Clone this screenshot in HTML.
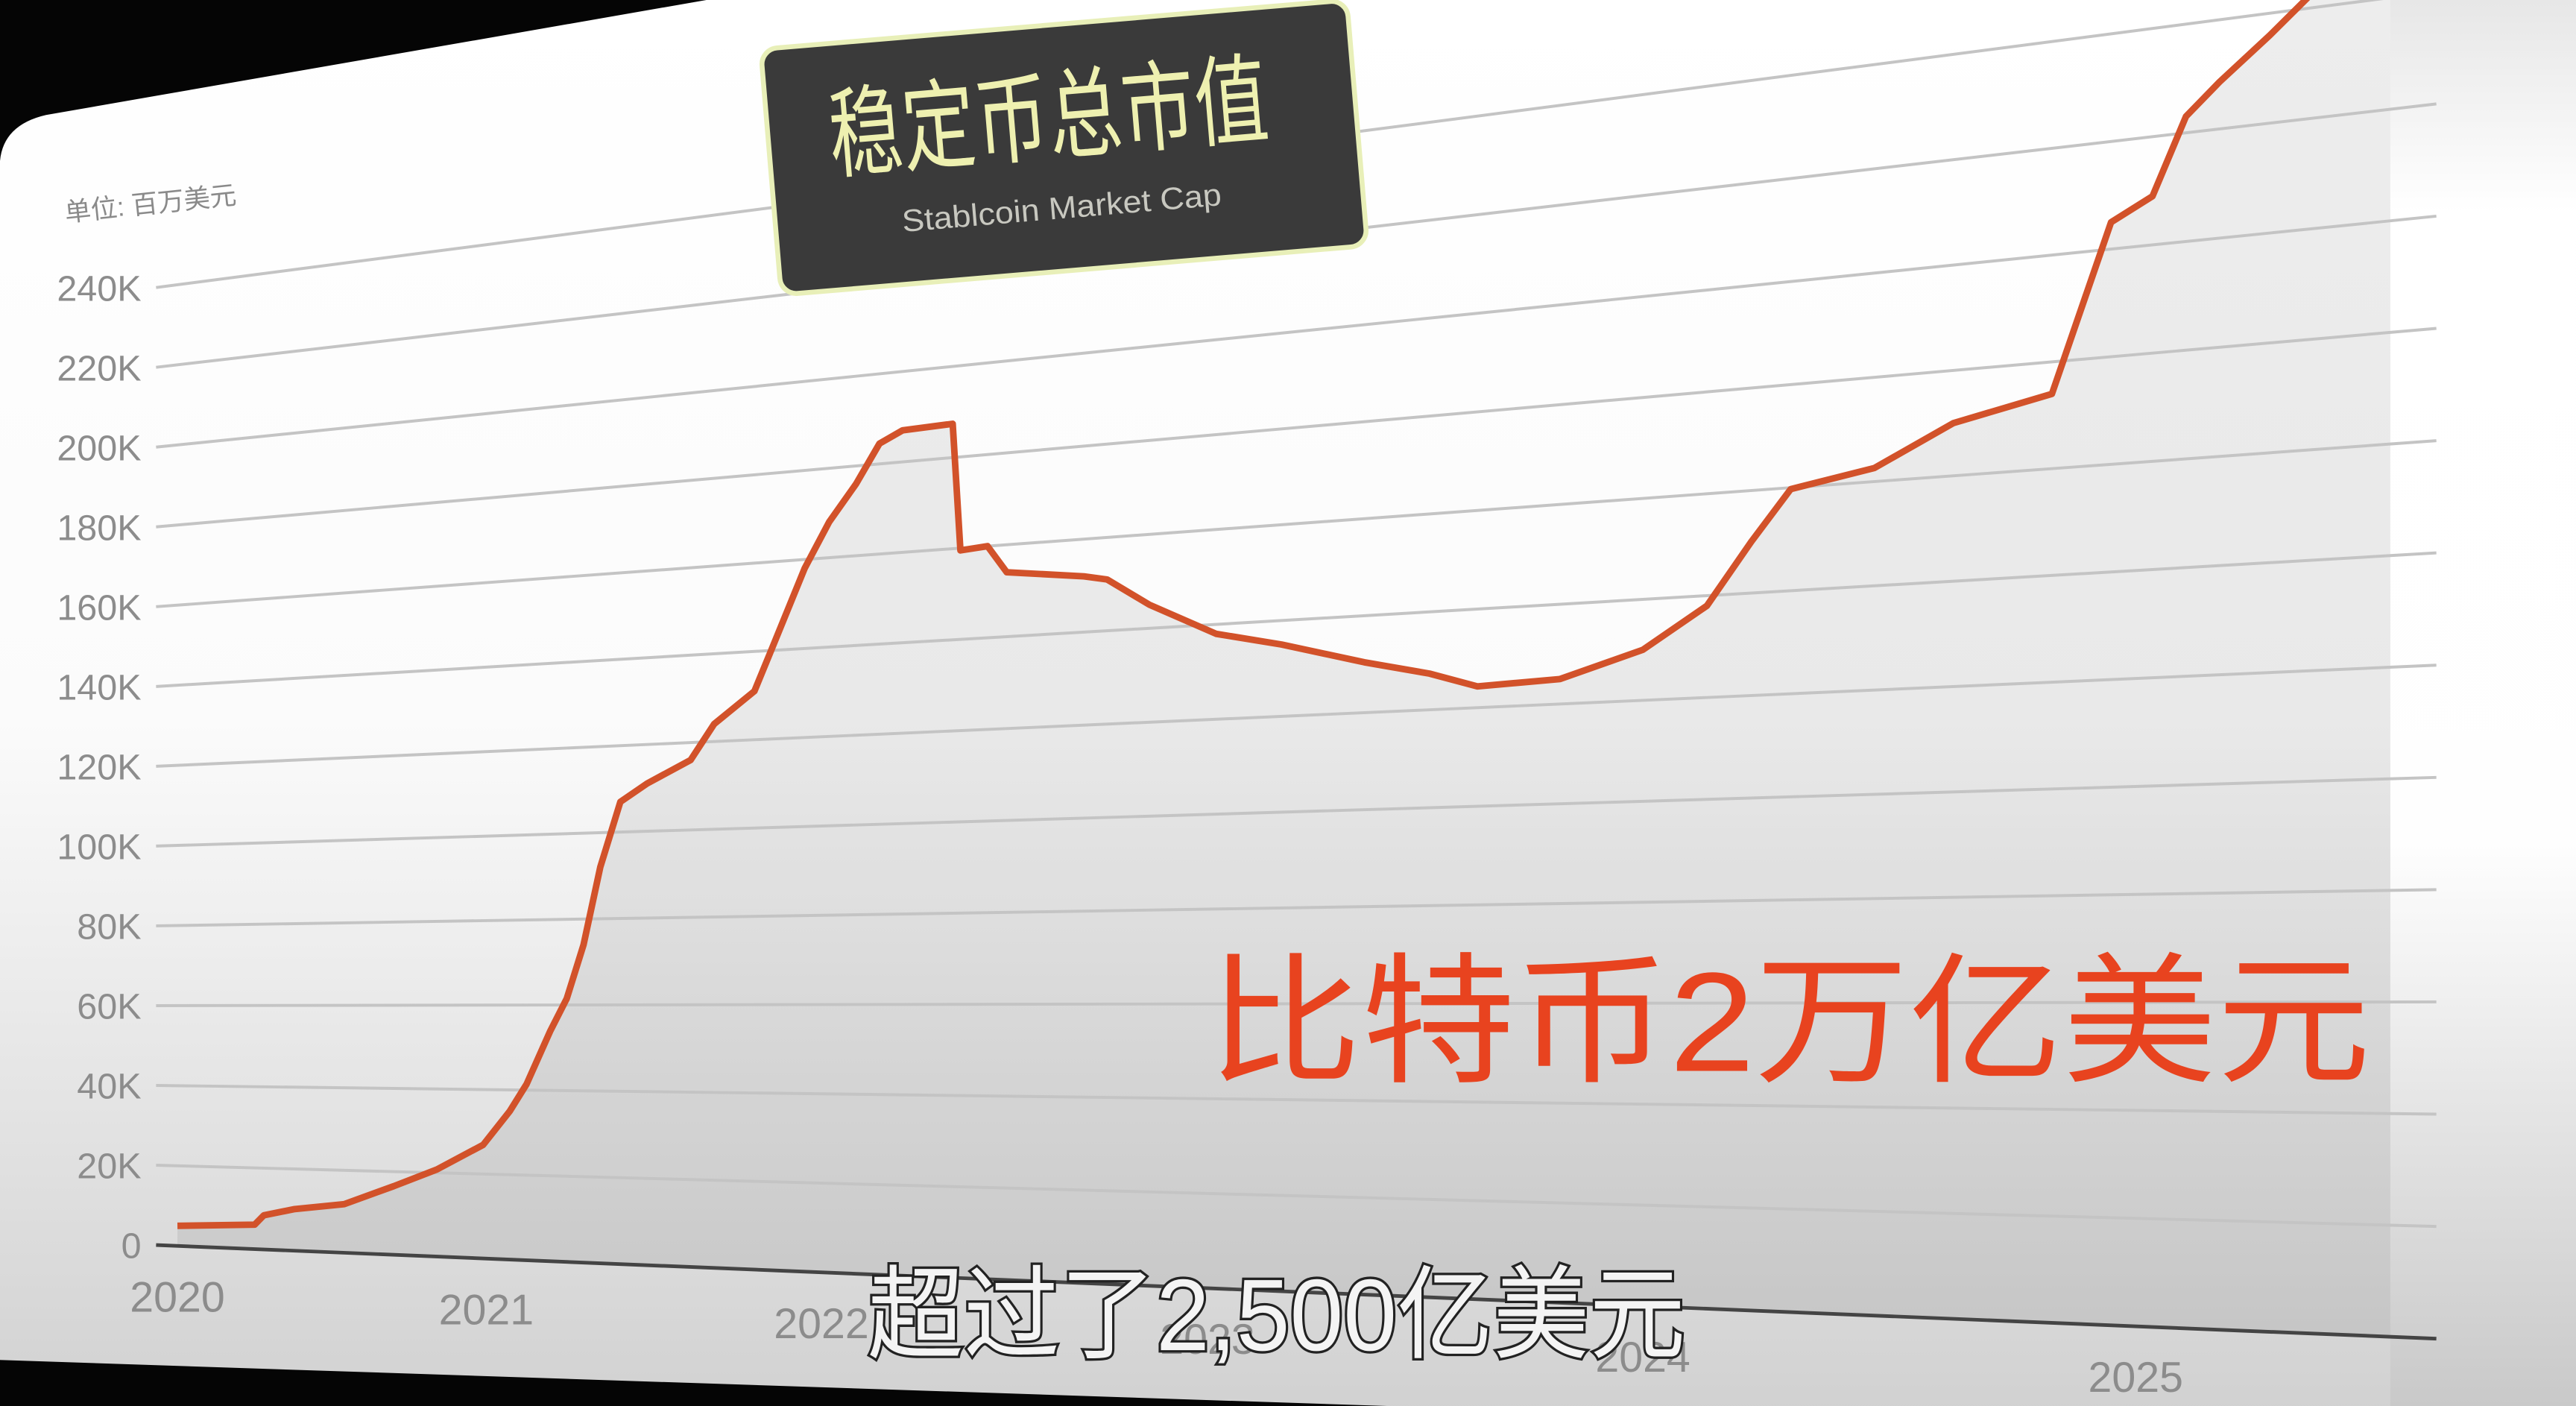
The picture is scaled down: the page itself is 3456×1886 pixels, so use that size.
<!DOCTYPE html>
<html><head><meta charset="utf-8"><style>
html,body{margin:0;padding:0;background:#000;overflow:hidden}
svg{display:block}
text{font-family:"Liberation Sans","Noto Sans CJK SC",sans-serif}
</style></head><body>
<svg id="chart" width="3456" height="1886" viewBox="0 0 1568 856" preserveAspectRatio="none" xmlns="http://www.w3.org/2000/svg">
<defs>
<linearGradient id="pg" x1="0" y1="0" x2="0" y2="1">
<stop offset="0" stop-color="#ffffff"/><stop offset="0.5" stop-color="#fbfbfb"/><stop offset="1" stop-color="#cfcfcf"/>
</linearGradient>
<linearGradient id="rg" x1="0" y1="0" x2="0" y2="1">
<stop offset="0" stop-color="#e4e4e4"/><stop offset="0.15" stop-color="#ffffff"/><stop offset="0.6" stop-color="#ffffff"/><stop offset="1" stop-color="#c8c8c8"/>
</linearGradient>
</defs>
<rect x="0" y="0" width="1568" height="856" fill="#050505"/>
<path d="M0,98 Q2,76 28,70 L430,0 L1568,0 L1568,880 L0,828 Z" fill="url(#pg)"/>
<rect x="1455" y="0" width="113" height="856" fill="url(#rg)" opacity="0.9"/>
<g id="plot"></g>
<text x="40" y="135" font-size="16" fill="#8a8a8a" transform="rotate(-6 40 135)">单位: 百万美元</text>
<g transform="rotate(-4.8 463 30)">
<rect x="463" y="30" width="358" height="150" rx="10" fill="#3a3a3a" stroke="#e8efb8" stroke-width="3"/>
<text x="500" y="107" font-size="60" fill="#eef0b0" textLength="268" lengthAdjust="spacingAndGlyphs">稳定币总市值</text>
<text x="540" y="148" font-size="19" fill="#c8c8c0" textLength="195" lengthAdjust="spacingAndGlyphs">Stablcoin Market Cap</text>
</g>
<text x="735" y="652" font-size="86" fill="#e8431f" textLength="708" lengthAdjust="spacingAndGlyphs">比特币2万亿美元</text>
<text x="528" y="822" font-size="62" fill="#f4f4f4" stroke="#222" stroke-width="3" paint-order="stroke" textLength="498" lengthAdjust="spacingAndGlyphs">超过了2,500亿美元</text>
</svg>
<script>
const years = [2020.0,2020.25,2020.28,2020.38,2020.54,2020.70,2020.84,2020.99,2021.07,2021.12,2021.19,2021.24,2021.29,2021.34,2021.40,2021.48,2021.61,2021.68,2021.80,2021.85,2021.95,2022.02,2022.09,2022.15,2022.21,2022.34,2022.36,2022.43,2022.48,2022.68,2022.74,2022.85,2023.02,2023.17,2023.36,2023.51,2023.62,2023.81,2024.0,2024.13,2024.22,2024.30,2024.47,2024.63,2024.83,2024.88,2024.95,2025.03,2025.09,2025.15,2025.24,2025.32];
const marketCapK = [5,6,8.4,10.2,11.8,16.5,20.8,26.9,35,41.4,53.8,61.5,74,92,107,111,116,124,131,140,158,168,176,184.5,187,187.4,159.5,160,154,152,151,145,138,135,130.4,127.4,124.3,125,130,138,150,159.7,162.6,170,174,187,205,209,223,228.6,236,243];
const yTicks = [0,20,40,60,80,100,120,140,160,180,200,220,240];
const yTickLabels = ["0","20K","40K","60K","80K","100K","120K","140K","160K","180K","200K","220K","240K"];
const xTickYears = [2020,2021,2022,2023,2024,2025];
const xTickLabels = ["2020","2021","2022","2023","2024","2025"];

const NS="http://www.w3.org/2000/svg";
const plot=document.getElementById('plot');
const yearPos=[[2020,108],[2021,296],[2022,500],[2023,735],[2024,1000],[2025,1300],[2026,1640]];
function xOf(yr){for(let i=0;i<yearPos.length-1;i++){const a=yearPos[i],b=yearPos[i+1];if(yr<=b[0]||i===yearPos.length-2){return a[1]+(yr-a[0])/(b[0]-a[0])*(b[1]-a[1]);}}}
const X0=95,X1=1483;
function yAt(x,v){const t=(x-X0)/(X1-X0);return 758+57*t-v*(2.429+0.988*t);}
function mk(tag,attrs){const e=document.createElementNS(NS,tag);for(const k in attrs)e.setAttribute(k,attrs[k]);return e;}

yTicks.forEach((v,i)=>{
  const l=mk('line',{x1:X0,y1:yAt(X0,v),x2:X1,y2:yAt(X1,v),stroke:v===0?'#444':'#c4c4c4','stroke-width':v===0?2.2:1.8});
  
  
  plot.appendChild(l);
  const tx=mk('text',{x:86,y:yAt(X0,v)+8,'font-size':22,fill:'#8c8c8c','text-anchor':'end'});
  tx.textContent=yTickLabels[i];
  
  
  plot.appendChild(tx);
});
const pts=years.map((yr,i)=>{const x=xOf(yr);return [x,yAt(x,marketCapK[i])];});
const last=pts[pts.length-1];
let d='M'+pts.map(p=>p[0].toFixed(1)+','+p[1].toFixed(1)).join(' L');
const xr=1455;
const area=mk('path',{d:d+` L${xr},${last[1]} L${xr},${yAt(xr,0)} L${pts[0][0]},${yAt(pts[0][0],0)} Z`,fill:'rgba(0,0,0,0.07)'});


plot.insertBefore(area,plot.firstChild);
const line=mk('path',{d:d,fill:'none',stroke:'#d2522a','stroke-width':4,'stroke-linejoin':'round'});


plot.appendChild(line);
xTickYears.forEach((yr,i)=>{
  const x=xOf(yr);
  const tx=mk('text',{x:x,y:yAt(x,0)+40,'font-size':26,fill:'#8c8c8c','text-anchor':'middle'});
  tx.textContent=xTickLabels[i];
  
  
  plot.appendChild(tx);
});
</script>
</body></html>
